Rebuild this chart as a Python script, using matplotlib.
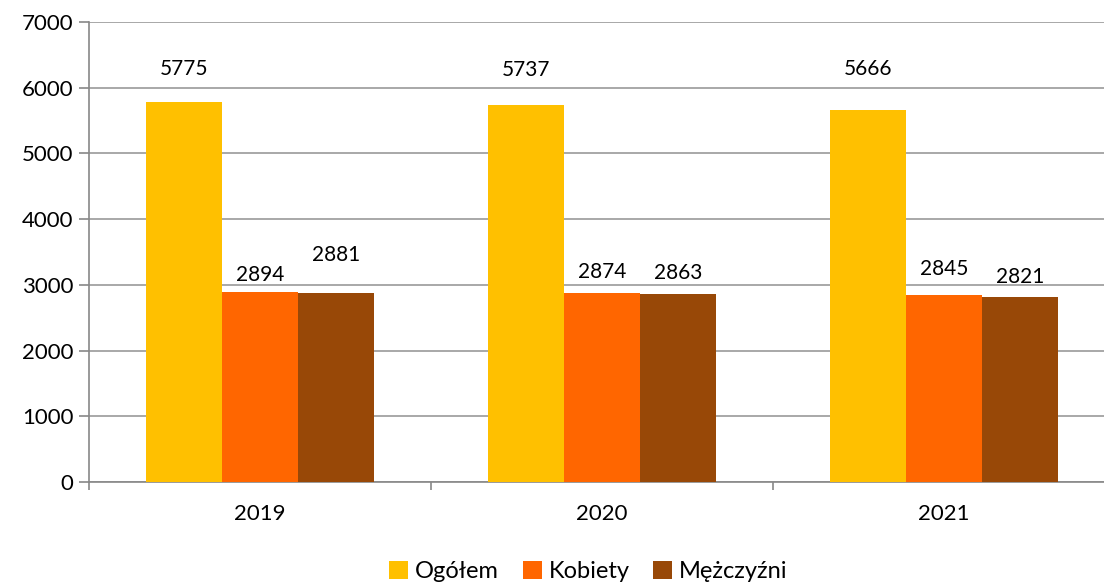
import matplotlib
matplotlib.use('Agg')
import matplotlib.pyplot as plt
import numpy as np

# Data
years = ['2019', '2020', '2021']
series_names = ['Ogółem', 'Kobiety', 'Mężczyźni']
ogolem = [5775, 5737, 5666]
kobiety = [2894, 2874, 2845]
mezczyzni = [2881, 2863, 2821]

colors = ['#FFC000', '#FF6600', '#984807']
# label offsets above bar tops (points), as placed in the original
label_offsets = [
    [24, 25, 29],
    [12, 15, 19],
    [27, 15, 14],
]

plt.rcParams['font.family'] = ['Lato', 'DejaVu Sans']

fig = plt.figure(figsize=(11.04, 5.83), dpi=100)
ax = fig.add_axes([89 / 1104, 101 / 583, (1115 - 89) / 1104, 460 / 583])

x = np.arange(len(years))
width = 0.222
all_series = [ogolem, kobiety, mezczyzni]

for i, (vals, name) in enumerate(zip(all_series, series_names)):
    bars = ax.bar(x + (i - 1) * width, vals, width, color=colors[i], label=name, zorder=3)
    for j, b in enumerate(bars):
        ax.annotate(str(vals[j]), (b.get_x() + b.get_width() / 2, b.get_height()),
                    xytext=(0, label_offsets[i][j]), textcoords='offset points',
                    ha='center', va='center', fontsize=15)

ax.set_ylim(0, 7000)
ax.set_yticks(range(0, 7001, 1000))
ax.set_xlim(-0.5, 2.5)
ax.set_xticks(x)
ax.set_xticklabels(years)
ax.set_xticks(np.arange(-0.5, 3, 1), minor=True)
ax.tick_params(axis='x', which='major', length=0, pad=16, labelsize=16)
ax.tick_params(axis='x', which='minor', length=6, color='#888888', width=1.2)
ax.tick_params(axis='y', length=7, color='#888888', width=1.2, labelsize=16, pad=4)

ax.grid(axis='y', color='#999999', linewidth=1.2, zorder=0)
for s in ['top', 'right']:
    ax.spines[s].set_visible(False)
for s in ['left', 'bottom']:
    ax.spines[s].set_color('#888888')
    ax.spines[s].set_linewidth(1.2)

fig.legend(loc='lower center', bbox_to_anchor=(0.533, -0.035), ncol=3, frameon=False,
           fontsize=17, handlelength=0.8, handleheight=0.8, handletextpad=0.3,
           columnspacing=1.0)

fig.savefig('out.png', dpi=100)
